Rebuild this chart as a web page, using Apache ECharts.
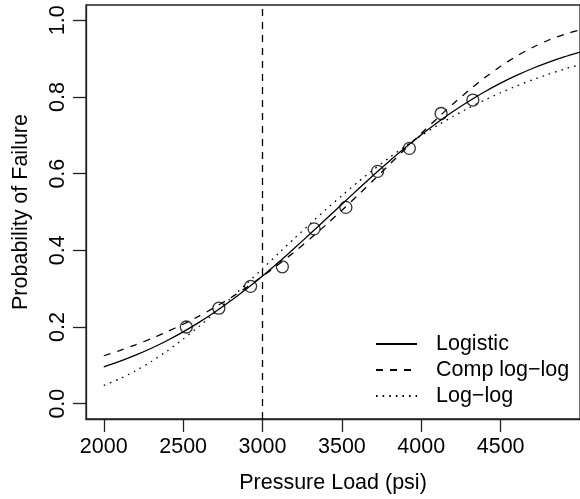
<!DOCTYPE html>
<html>
<head>
<meta charset="utf-8">
<script src="https://cdn.jsdelivr.net/npm/echarts@6/dist/echarts.min.js"></script>
<style>
html,body{margin:0;padding:0;background:#fff;}
#chart{width:580px;height:499px;}
</style>
</head>
<body>
<div id="chart"></div>
<script>
// Observed proportions of failure
const observedLoads = [2520, 2725, 2925, 3125, 3325, 3525, 3725, 3925, 4125, 4325];
const observedProps = [0.200, 0.249, 0.306, 0.357, 0.456, 0.512, 0.606, 0.666, 0.757, 0.792];

// Fitted curves
const curveLoads = [2000, 2100, 2200, 2300, 2400, 2500, 2600, 2700, 2800, 2900,
                    3000, 3100, 3200, 3300, 3400, 3500, 3600, 3700, 3800, 3900,
                    4000, 4100, 4200, 4300, 4400, 4500, 4600, 4700, 4800, 4900, 5000];
const logisticFit = [0.0961, 0.1104, 0.1265, 0.1446, 0.1649, 0.1873, 0.2120, 0.2390, 0.2683, 0.2998,
                     0.3333, 0.3685, 0.4052, 0.4430, 0.4815, 0.5202, 0.5587, 0.5964, 0.6331, 0.6682,
                     0.7016, 0.7330, 0.7622, 0.7891, 0.8137, 0.8361, 0.8562, 0.8743, 0.8903, 0.9045, 0.9171];
const compLogLogFit = [0.1250, 0.1386, 0.1535, 0.1698, 0.1877, 0.2072, 0.2284, 0.2515, 0.2764, 0.3033,
                       0.3322, 0.3630, 0.3957, 0.4303, 0.4666, 0.5044, 0.5435, 0.5835, 0.6241, 0.6647,
                       0.7050, 0.7442, 0.7819, 0.8175, 0.8505, 0.8803, 0.9066, 0.9292, 0.9481, 0.9633, 0.9750];
const logLogFit = [0.0476, 0.0649, 0.0856, 0.1099, 0.1375, 0.1682, 0.2016, 0.2372, 0.2745, 0.3131,
                   0.3523, 0.3916, 0.4307, 0.4692, 0.5067, 0.5429, 0.5777, 0.6108, 0.6421, 0.6717,
                   0.6994, 0.7253, 0.7493, 0.7716, 0.7922, 0.8112, 0.8286, 0.8446, 0.8592, 0.8725, 0.8847];

const thresholdLoad = 3000;

const xTicks = [2000, 2500, 3000, 3500, 4000, 4500];
const yTicks = [0, 0.2, 0.4, 0.6, 0.8, 1.0];

const seriesNames = ['Logistic', 'Comp log\u2212log', 'Log\u2212log'];

const FONT = "'Liberation Sans', Arial, Helvetica, sans-serif";
const INK = '#000';

const pair = (xs, ys) => xs.map((x, i) => [x, ys[i]]);

const chart = echarts.init(document.getElementById('chart'), null, {renderer: 'canvas'});

const lineSeries = (name, values, dash) => ({
  name: name,
  type: 'line',
  data: pair(curveLoads, values),
  showSymbol: false,
  symbol: 'none',
  smooth: 0.2,
  clip: true,
  lineStyle: {color: INK, width: 1.3, type: dash},
  itemStyle: {color: INK},
  z: 3
});

chart.setOption({
  animation: false,
  backgroundColor: '#fff',
  textStyle: {fontFamily: FONT},
  grid: {
    left: 86, top: 5, bottom: 77, right: -18,
    show: true, borderColor: '#222', borderWidth: 1.3, backgroundColor: 'transparent'
  },
  xAxis: {
    type: 'value',
    min: 1888, max: 5000,
    name: 'Pressure Load (psi)',
    nameLocation: 'middle',
    nameGap: 53,
    nameTextStyle: {fontSize: 21.5, color: INK, fontFamily: FONT},
    axisLine: {show: true, onZero: false, lineStyle: {color: '#222', width: 1.3}},
    axisTick: {show: true, inside: false, length: 13, customValues: xTicks, lineStyle: {color: '#222', width: 1.3}},
    axisLabel: {show: true, customValues: xTicks, margin: 17, fontSize: 21.5, color: INK, fontFamily: FONT,
      formatter: v => String(v)},
    splitLine: {show: false}
  },
  yAxis: {
    type: 'value',
    min: -0.04, max: 1.04,
    name: 'Probability of Failure',
    nameLocation: 'middle',
    nameGap: 54,
    nameTextStyle: {fontSize: 21.5, color: INK, fontFamily: FONT},
    axisLine: {show: true, onZero: false, lineStyle: {color: '#222', width: 1.3}},
    axisTick: {show: true, inside: false, length: 13, customValues: yTicks, lineStyle: {color: '#222', width: 1.3}},
    axisLabel: {
      show: true, customValues: yTicks, rotate: 90, margin: 17, fontSize: 21.5, color: INK, fontFamily: FONT,
      formatter: v => v.toFixed(1)
    },
    splitLine: {show: false}
  },
  legend: {
    show: true,
    orient: 'vertical',
    left: 375, top: 333,
    padding: 0,
    itemWidth: 41, itemHeight: 14, itemGap: 4,
    data: seriesNames,
    itemStyle: {color: 'rgba(0,0,0,0)', borderColor: 'rgba(0,0,0,0)', borderWidth: 0, opacity: 0},
    textStyle: {fontSize: 21.5, color: INK, fontFamily: FONT, padding: [0, 0, 0, 14]},
    selectedMode: false
  },
  series: [
    Object.assign(lineSeries(seriesNames[0], logisticFit, 'solid'), {
      markLine: {
        silent: true,
        symbol: 'none',
        label: {show: false},
        lineStyle: {color: INK, width: 1.3, type: [7, 6]},
        data: [{xAxis: thresholdLoad}]
      }
    }),
    lineSeries(seriesNames[1], compLogLogFit, [7, 7]),
    lineSeries(seriesNames[2], logLogFit, [1.6, 5]),
    {
      name: 'Observed',
      type: 'scatter',
      data: pair(observedLoads, observedProps),
      symbol: 'circle',
      symbolSize: 12,
      itemStyle: {color: 'rgba(0,0,0,0)', borderColor: INK, borderWidth: 1.3},
      z: 5
    }
  ]
});
</script>
</body>
</html>
